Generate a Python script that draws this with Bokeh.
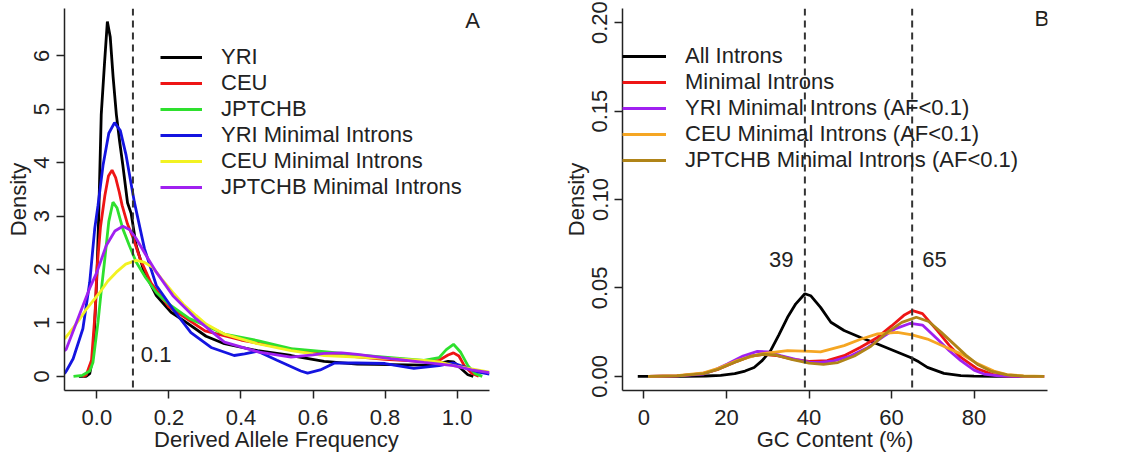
from bokeh.plotting import figure
from bokeh.layouts import row
from bokeh.models import Range1d, FixedTicker, Span, Label, Legend, LegendItem, NumeralTickFormatter
from bokeh.embed import file_html
from bokeh.resources import INLINE

# ---------------- Panel A data (Derived Allele Frequency densities) ----------------
yri_x = [-0.05, -0.03, -0.02, -0.01, 0.0, 0.005, 0.012, 0.021, 0.029, 0.037, 0.045, 0.054, 0.063, 0.072, 0.085, 0.095, 0.109, 0.13, 0.165, 0.206, 0.25, 0.303, 0.354, 0.446, 0.539, 0.631, 0.723, 0.816, 0.908, 0.95, 0.975, 0.99, 1.01, 1.03, 1.045]
yri_y = [0.0, 0.0, 0.05, 0.4, 1.9, 3.0, 4.9, 5.85, 6.64, 6.35, 5.6, 4.9, 4.4, 3.95, 3.25, 3.05, 2.45, 1.98, 1.51, 1.2, 1.0, 0.75, 0.61, 0.48, 0.39, 0.28, 0.23, 0.22, 0.21, 0.24, 0.28, 0.27, 0.15, 0.03, 0.0]

ceu_x = [-0.04, -0.03, -0.015, -0.005, 0.0, 0.01, 0.022, 0.032, 0.042, 0.052, 0.062, 0.07, 0.085, 0.1, 0.12, 0.15, 0.2, 0.3, 0.4, 0.5, 0.6, 0.7, 0.8, 0.9, 0.95, 0.975, 0.99, 1.005, 1.02, 1.04, 1.06]
ceu_y = [0.0, 0.02, 0.3, 1.2, 2.0, 2.8, 3.38, 3.75, 3.86, 3.72, 3.45, 3.2, 2.85, 2.6, 2.2, 1.75, 1.3, 0.85, 0.68, 0.55, 0.45, 0.38, 0.32, 0.28, 0.3, 0.4, 0.44, 0.38, 0.2, 0.06, 0.0]

jpt_x = [-0.065, -0.04, -0.02, -0.011, 0.003, 0.012, 0.021, 0.033, 0.0445, 0.056, 0.072, 0.09, 0.109, 0.135, 0.165, 0.2, 0.257, 0.303, 0.354, 0.446, 0.539, 0.631, 0.723, 0.816, 0.908, 0.95, 0.97, 0.99, 1.01, 1.03, 1.05, 1.07]
jpt_y = [0.0, 0.02, 0.1, 0.26, 1.01, 1.6, 2.14, 2.9, 3.26, 3.15, 2.76, 2.45, 2.14, 1.85, 1.57, 1.35, 1.08, 0.95, 0.79, 0.67, 0.52, 0.46, 0.4, 0.35, 0.3, 0.35, 0.5, 0.6, 0.45, 0.2, 0.05, 0.0]

yrim_x = [-0.09, -0.085, -0.066, -0.039, -0.02, -0.006, 0.003, 0.017, 0.033, 0.049, 0.065, 0.081, 0.104, 0.132, 0.165, 0.211, 0.261, 0.317, 0.381, 0.41, 0.446, 0.5, 0.566, 0.585, 0.62, 0.66, 0.72, 0.8, 0.88, 0.95, 0.99, 1.03, 1.06, 1.09]
yrim_y = [0.05, 0.1, 0.33, 0.89, 1.76, 2.77, 3.2, 3.95, 4.55, 4.75, 4.6, 4.14, 3.26, 2.39, 1.7, 1.26, 0.82, 0.54, 0.39, 0.42, 0.47, 0.3, 0.1, 0.06, 0.12, 0.25, 0.25, 0.24, 0.15, 0.2, 0.25, 0.15, 0.08, 0.04]

ceum_x = [-0.09, -0.076, -0.05, -0.029, 0.008, 0.03, 0.054, 0.08, 0.109, 0.13, 0.155, 0.18, 0.211, 0.24, 0.275, 0.303, 0.354, 0.446, 0.539, 0.631, 0.723, 0.816, 0.908, 0.95, 0.99, 1.04, 1.09]
ceum_y = [0.7, 0.82, 1.05, 1.26, 1.57, 1.78, 1.95, 2.1, 2.17, 2.14, 2.04, 1.82, 1.57, 1.35, 1.14, 0.98, 0.79, 0.61, 0.48, 0.39, 0.36, 0.33, 0.3, 0.27, 0.2, 0.14, 0.08]

jptm_x = [-0.09, -0.085, -0.06, -0.039, -0.02, 0.0, 0.026, 0.05, 0.072, 0.09, 0.109, 0.135, 0.165, 0.211, 0.275, 0.354, 0.446, 0.539, 0.6, 0.631, 0.68, 0.723, 0.816, 0.908, 0.99, 1.04, 1.09]
jptm_y = [0.48, 0.51, 0.95, 1.32, 1.65, 1.95, 2.45, 2.72, 2.81, 2.75, 2.58, 2.28, 1.95, 1.51, 1.08, 0.64, 0.46, 0.36, 0.4, 0.43, 0.44, 0.41, 0.33, 0.26, 0.2, 0.12, 0.07]

a_names = ["YRI", "CEU", "JPTCHB", "YRI Minimal Introns", "CEU Minimal Introns", "JPTCHB Minimal Introns"]
a_colors = ["#000000", "#EE1515", "#2EE02E", "#1414E0", "#F2F222", "#A020F0"]
a_xticks = [0.0, 0.2, 0.4, 0.6, 0.8, 1.0]
a_yticks = [0, 1, 2, 3, 4, 5, 6]

# ---------------- Panel B data (GC content densities) ----------------
all_x = [-1.5, 5, 10, 15, 18.6, 22, 24.5, 26.7, 28.7, 30.7, 32.7, 34.8, 36.8, 39, 40.4, 42.8, 45.3, 48.5, 52.5, 56.6, 60.6, 64.6, 66.6, 68.7, 72.7, 76.8, 80, 85, 90, 95]
all_y = [0, 0, 0, 0.0002, 0.0006, 0.0015, 0.003, 0.005, 0.009, 0.0145, 0.0235, 0.0334, 0.041, 0.0467, 0.0456, 0.039, 0.0306, 0.0259, 0.022, 0.0183, 0.0145, 0.0107, 0.0082, 0.0051, 0.0017, 0.0004, 0.0001, 0, 0, 0]

min_x = [1, 8, 14, 18, 22, 26, 29, 32, 36, 40, 44.4, 48.5, 52.5, 56.6, 60, 63, 65.1, 67.5, 71.1, 74, 76.8, 80.8, 84.8, 88, 92, 97]
min_y = [0, 0.0003, 0.0015, 0.004, 0.008, 0.0115, 0.0125, 0.0118, 0.0098, 0.0085, 0.0089, 0.0117, 0.0165, 0.022, 0.0285, 0.0345, 0.0372, 0.0355, 0.0259, 0.0175, 0.0107, 0.0042, 0.0009, 0.0002, 0, 0]

yri01_x = [1, 8, 14.5, 17, 20.2, 24, 27.5, 30, 33.1, 37, 40.4, 42.8, 46, 50, 54, 58, 61, 64.6, 67.5, 71.1, 74, 76.8, 80, 82.4, 86, 90, 97]
yri01_y = [0, 0.0003, 0.0013, 0.0035, 0.007, 0.0115, 0.0141, 0.0138, 0.0117, 0.0095, 0.0079, 0.0079, 0.0088, 0.0115, 0.016, 0.0225, 0.027, 0.030, 0.029, 0.0211, 0.0145, 0.0089, 0.0035, 0.0013, 0.0003, 0, 0]

ceu01_x = [1, 8, 14.5, 18, 22.6, 28.3, 34.8, 40.4, 42.8, 48.5, 52.5, 56.6, 61.4, 65, 68.7, 72.5, 76.8, 80.8, 84.8, 88, 92, 97]
ceu01_y = [0, 0.0004, 0.002, 0.0045, 0.0089, 0.0127, 0.0145, 0.0141, 0.0138, 0.0174, 0.021, 0.024, 0.0249, 0.0235, 0.0211, 0.0172, 0.0127, 0.0072, 0.003, 0.001, 0.0002, 0]

jpt01_x = [1, 8, 14.5, 18, 22.6, 26, 29, 32, 36, 40, 43.5, 47, 51, 55, 59, 62.5, 66, 69, 72, 75, 78, 81, 84, 88, 92, 97]
jpt01_y = [0, 0.0003, 0.0015, 0.004, 0.0085, 0.0115, 0.0125, 0.012, 0.0095, 0.0075, 0.0068, 0.0078, 0.0115, 0.017, 0.025, 0.0305, 0.0334, 0.031, 0.025, 0.0185, 0.012, 0.0065, 0.003, 0.0008, 0.0001, 0]

b_names = ["All Introns", "Minimal Introns", "YRI Minimal Introns (AF<0.1)", "CEU Minimal Introns (AF<0.1)", "JPTCHB Minimal Introns (AF<0.1)"]
b_colors = ["#000000", "#EE1515", "#A020F0", "#F5A623", "#B08418"]
b_xticks = [0, 20, 40, 60, 80]
b_yticks = [0.0, 0.05, 0.10, 0.15, 0.20]

FONT = "Liberation Sans"
TXT = "#222222"
FS = "22px"


def style(p, xticks, yticks, xfmt, yfmt, xlabel):
    p.xgrid.visible = False
    p.ygrid.visible = False
    p.outline_line_color = None
    p.background_fill_color = "white"
    p.border_fill_color = "white"
    p.xaxis.ticker = FixedTicker(ticks=xticks)
    p.yaxis.ticker = FixedTicker(ticks=yticks)
    p.xaxis.formatter = NumeralTickFormatter(format=xfmt)
    p.yaxis.formatter = NumeralTickFormatter(format=yfmt)
    p.xaxis.axis_label = xlabel
    p.yaxis.axis_label = "Density"
    p.yaxis.major_label_orientation = "vertical"
    for ax in (p.xaxis[0], p.yaxis[0]):
        ax.axis_line_color = "#222222"
        ax.axis_line_width = 1.5
        ax.major_tick_line_color = "#222222"
        ax.major_tick_line_width = 1.5
        ax.major_tick_out = 8
        ax.major_tick_in = 0
        ax.minor_tick_line_color = None
        ax.major_label_text_font = FONT
        ax.major_label_text_font_size = FS
        ax.major_label_text_color = TXT
        ax.axis_label_text_font = FONT
        ax.axis_label_text_font_size = FS
        ax.axis_label_text_font_style = "normal"
        ax.axis_label_text_color = TXT
    p.xaxis.major_label_standoff = 11
    p.xaxis.axis_label_standoff = -1
    p.yaxis.major_label_standoff = 7
    p.yaxis.axis_label_standoff = 1


def make_legend(items, loc, gw):
    return Legend(items=items, location=loc, padding=0, margin=0, spacing=0,
                  glyph_width=gw, glyph_height=20, label_height=20, label_standoff=19,
                  label_text_font=FONT, label_text_font_size=FS, label_text_color=TXT,
                  border_line_color=None, background_fill_alpha=0)


# ---------------- Panel A ----------------
pa = figure(width=558, height=456, output_backend="svg", toolbar_location=None,
            x_range=Range1d(-0.09, 1.09), y_range=Range1d(-0.265, 6.885),
            min_border_left=64, min_border_right=69, min_border_top=8, min_border_bottom=66)
style(pa, a_xticks, a_yticks, "0.0", "0", "Derived Allele Frequency")

pa.add_layout(Span(location=0.1, dimension="height", line_color="#333333", line_width=2, line_dash="7 5"))

a_series = [(yri_x, yri_y), (ceu_x, ceu_y), (jpt_x, jpt_y), (yrim_x, yrim_y), (ceum_x, ceum_y), (jptm_x, jptm_y)]
a_items = []
for (xs, ys), name, col in zip(a_series, a_names, a_colors):
    r = pa.line(xs, ys, line_color=col, line_width=2.8)
    a_items.append(LegendItem(label=name, renderers=[r]))

pa.add_layout(make_legend(a_items, (96, 190), 42))

pa.add_layout(Label(x=0.122, y=0.4, text="0.1", text_baseline="middle", text_align="left",
                    text_font=FONT, text_font_size=FS, text_color=TXT))
pa.add_layout(Label(x=1.043, y=6.66, text="A", text_baseline="middle", text_align="center",
                    text_font=FONT, text_font_size=FS, text_color=TXT))

# ---------------- Panel B ----------------
pb = figure(width=570, height=456, output_backend="svg", toolbar_location=None,
            x_range=Range1d(-5.2, 97.8), y_range=Range1d(-0.008, 0.208),
            min_border_left=64, min_border_right=81, min_border_top=8, min_border_bottom=66)
style(pb, b_xticks, b_yticks, "0", "0.00", "GC Content (%)")

for loc in (39, 65):
    pb.add_layout(Span(location=loc, dimension="height", line_color="#333333", line_width=2, line_dash="7 5"))

b_series = [(all_x, all_y), (min_x, min_y), (yri01_x, yri01_y), (ceu01_x, ceu01_y), (jpt01_x, jpt01_y)]
b_items = []
for (xs, ys), name, col in zip(b_series, b_names, b_colors):
    r = pb.line(xs, ys, line_color=col, line_width=2.8)
    b_items.append(LegendItem(label=name, renderers=[r]))

pb.add_layout(make_legend(b_items, (0, 217), 44))

pb.add_layout(Label(x=33.3, y=0.0658, text="39", text_baseline="middle", text_align="center",
                    text_font=FONT, text_font_size=FS, text_color=TXT))
pb.add_layout(Label(x=70.4, y=0.0658, text="65", text_baseline="middle", text_align="center",
                    text_font=FONT, text_font_size=FS, text_color=TXT))
pb.add_layout(Label(x=96.4, y=0.2023, text="B", text_baseline="middle", text_align="center",
                    text_font=FONT, text_font_size=FS, text_color=TXT))

layout = row(pa, pb)
open("out.html", "w").write(file_html(layout, INLINE))
